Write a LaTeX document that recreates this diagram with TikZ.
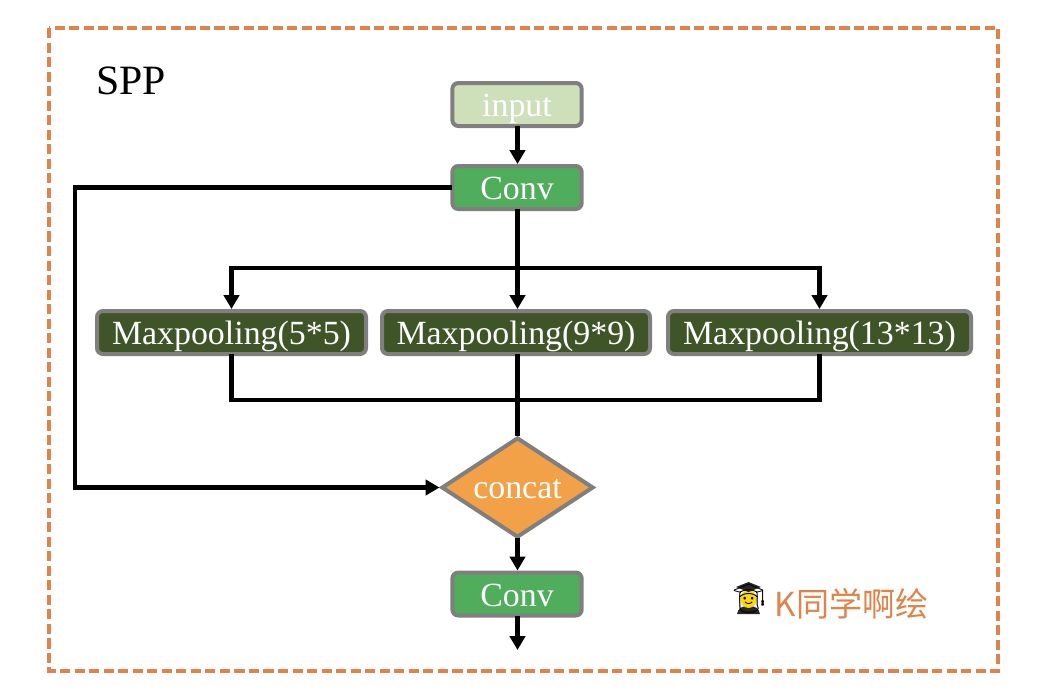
\documentclass[tikz,border=0pt]{standalone}
\usepackage{fontspec}
\setmainfont{Liberation Serif}
\newfontfamily\cjkfont{Noto Sans CJK SC}
\newfontfamily\emojifont{Noto Emoji}
\usetikzlibrary{shapes.geometric,arrows.meta,calc}
\definecolor{frameor}{HTML}{E0834A}
\definecolor{boxgray}{HTML}{7F7F7F}
\definecolor{inputg}{HTML}{CDE0B9}
\definecolor{convg}{HTML}{4FAD5B}
\definecolor{poolg}{HTML}{3F5527}
\definecolor{concator}{HTML}{F2A149}
\tikzset{
  px/.style={x=0.75pt,y=-0.75pt},
  blockbase/.style={draw=boxgray,line width=3pt,rounded corners=4.5pt,text=white,font=\fontsize{25.4}{25.4}\selectfont,inner sep=0pt,minimum height=32.25pt,text height=22pt,text depth=4pt,anchor=center},
  inputbox/.style={blockbase,fill=inputg,minimum width=97pt},
  convbox/.style={blockbase,fill=convg,minimum width=97pt},
  poolbox/.style={blockbase,fill=poolg},
  decide/.style={diamond,draw=boxgray,line width=3pt,fill=concator,text=white,font=\fontsize{25.4}{25.4}\selectfont,inner sep=0pt,text height=20.5pt,text depth=4.5pt,minimum width=114pt,minimum height=75pt,aspect=1.5},
  wire/.style={draw=black,line width=3.3pt,shorten <=-1.5pt},
  arrowwire/.style={wire,-{Triangle[length=10.5pt,width=11.5pt]}},
  emojipart/.style={draw=none},
}
\begin{document}
\begin{tikzpicture}[px]
\useasboundingbox (0,0) rectangle (1052,696);
\draw[frameor,line width=3pt,dash pattern=on 7.6pt off 3.3pt] (49,28) rectangle (998,671);
\node[font=\fontsize{31.3}{31.3}\selectfont,anchor=center] (spp) at (131,81) {SPP};
\node[inputbox] (input) at (517,104.5) {input};
\node[convbox] (conv1) at (517,187.5) {Conv};
\node[poolbox,minimum width=201.75pt] (p1) at (231.5,332.5) {Maxpooling(5*5)};
\node[poolbox,minimum width=201pt] (p2) at (516,332.5) {Maxpooling(9*9)};
\node[poolbox,minimum width=227.25pt] (p3) at (819.5,332.5) {Maxpooling(13*13)};
\node[decide] (concat) at (517.5,487.5) {concat};
\node[convbox] (conv2) at (517,594) {Conv};
\coordinate (out) at (517.5,650);
\coordinate (split) at (517.5,268);
\coordinate (merge) at (517.5,400);
\coordinate (left1) at (75,187.5);
\coordinate (left2) at (75,487.5);
\draw[arrowwire] (split |- input.south) -- (split |- conv1.north);
\draw[wire] (split |- conv1.south) -- (split);
\draw[arrowwire] (split) -- (split |- p2.north);
\draw[arrowwire] (split) -| (p1);
\draw[arrowwire] (split) -| (p3);
\draw[wire] (p1) |- (merge);
\draw[wire] (p3) |- (merge);
\draw[wire] (merge |- p2.south) -- (merge);
\draw[wire] (merge) -- (concat);
\draw[arrowwire] (conv1.west) -- (left1) -- (left2) -- (concat.west);
\draw[arrowwire] (concat) -- (split |- conv2.north);
\draw[arrowwire] (split |- conv2.south) -- (out);
% colour under the outline glyph of the emoji
\fill[black!85,emojipart] (737,614) .. controls (738,608) and (742,606) .. (748.5,606) .. controls (755,606) and (759,608) .. (760,614) -- cycle;
\fill[yellow!75!orange,emojipart] (748.5,599) ellipse (8 and 9);
\fill[black!85,emojipart] (736,587) -- (748.5,582) -- (761,587) -- (748.5,592) -- cycle;
\node[font=\emojifont\fontsize{21.5}{21.5}\selectfont,text=black,inner sep=0pt] (emoji) at (749,598.5) {👨‍🎓};
\node[font=\cjkfont\fontsize{24.8}{24.8}\selectfont,text=frameor,inner sep=0pt] (brand) at (851.5,604) {K同学啊绘};
\end{tikzpicture}
\end{document}
